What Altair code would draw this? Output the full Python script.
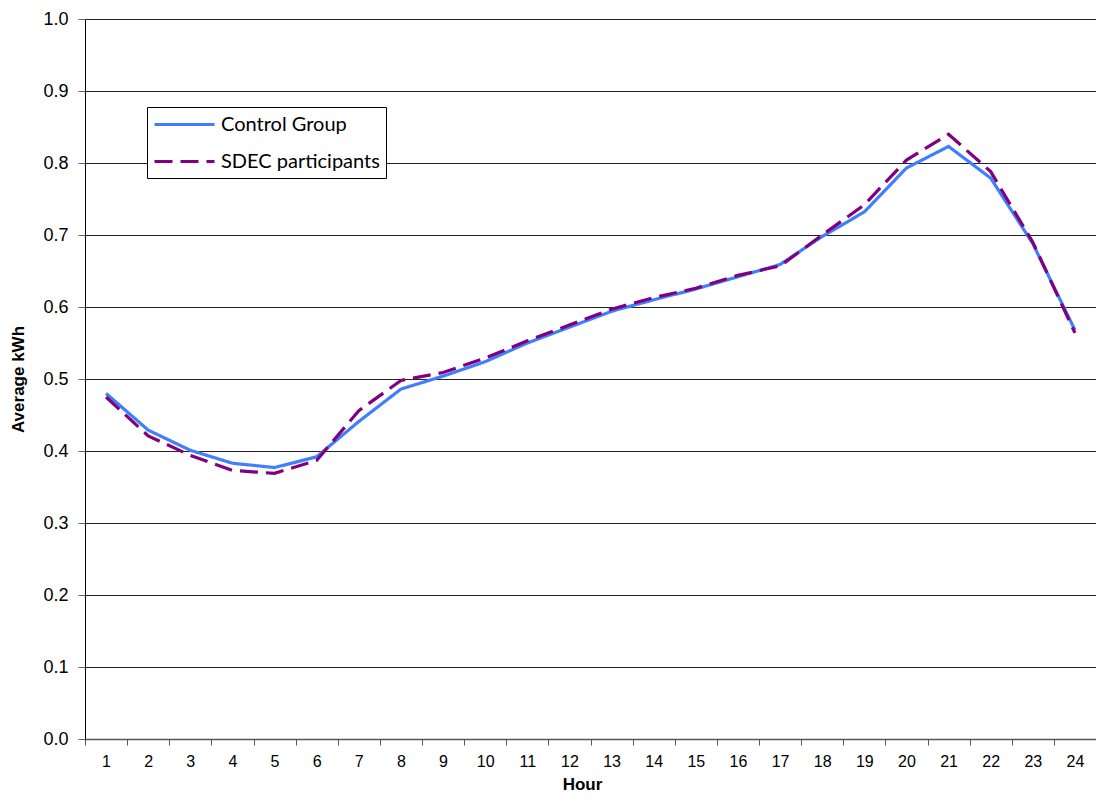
import pandas as pd
import altair as alt

# hourly averages
hours = list(range(1, 25))
control = [0.480, 0.429, 0.401, 0.383, 0.377, 0.392, 0.441, 0.486, 0.504, 0.524, 0.550, 0.572,
           0.594, 0.610, 0.625, 0.642, 0.659, 0.698, 0.732, 0.793, 0.823, 0.779, 0.688, 0.568]
sdec = [0.475, 0.421, 0.394, 0.373, 0.369, 0.387, 0.456, 0.498, 0.509, 0.529, 0.553, 0.575,
        0.597, 0.613, 0.626, 0.644, 0.657, 0.700, 0.742, 0.804, 0.840, 0.788, 0.690, 0.564]
series = ['Control Group', 'SDEC participants']

df = pd.concat([
    pd.DataFrame({'Hour': hours, 'kWh': control, 'Group': series[0]}),
    pd.DataFrame({'Hour': hours, 'kWh': sdec, 'Group': series[1]}),
])

# a long flat line as legend symbol, like the spreadsheet legend
legend = alt.Legend(
    title=None, orient='none', legendX=62, legendY=88,
    strokeColor='black', fillColor='white', padding=6,
    symbolType='M-1,0H5', symbolSize=400, symbolStrokeWidth=3,
    labelFont='Lato', labelFontSize=20, labelColor='black',
    rowPadding=15, labelOffset=45,
)

chart = (
    alt.Chart(df)
    .mark_line(strokeWidth=3.2)
    .encode(
        x=alt.X('Hour:O', title='Hour',
                axis=alt.Axis(labelAngle=0, tickBand='extent', grid=False,
                              labelFont='Liberation Sans', labelFontSize=16, labelColor='black',
                              labelPadding=8, tickSize=6, tickColor='#555',
                              domainColor='#555', domainWidth=1.5,
                              titleFont='Liberation Sans', titleFontSize=17, titleFontWeight='bold',
                              titleColor='black', titleX=497, titleY=45, titleBaseline='middle')),
        y=alt.Y('kWh:Q', title='Average kWh',
                scale=alt.Scale(domain=[0, 1], nice=False),
                axis=alt.Axis(values=[i / 10 for i in range(11)], format='.1f',
                              labelFont='Liberation Sans', labelFontSize=18, labelColor='black',
                              labelPadding=10, tickSize=7, tickColor='#666',
                              domainColor='black', gridColor='#222', gridWidth=1,
                              titleFont='Liberation Sans', titleFontSize=17, titleFontWeight='bold',
                              titleColor='black', titleAngle=270, titleX=-67, titleY=360,
                              titleAlign='center', titleBaseline='middle')),
        color=alt.Color('Group:N', scale=alt.Scale(domain=series, range=['#3F7FFF', '#800080']),
                        legend=legend),
        strokeDash=alt.StrokeDash('Group:N', scale=alt.Scale(domain=series, range=[[1, 0], [18, 8]]),
                                  legend=legend),
    )
    .properties(width=1011, height=720,
                autosize=alt.AutoSizeParams(type='none'),
                padding={'left': 77, 'top': 11, 'right': 0, 'bottom': 56})
    .configure_view(stroke=None)
)

chart.save("out.html", embed_options={"renderer": "svg", "actions": False})
